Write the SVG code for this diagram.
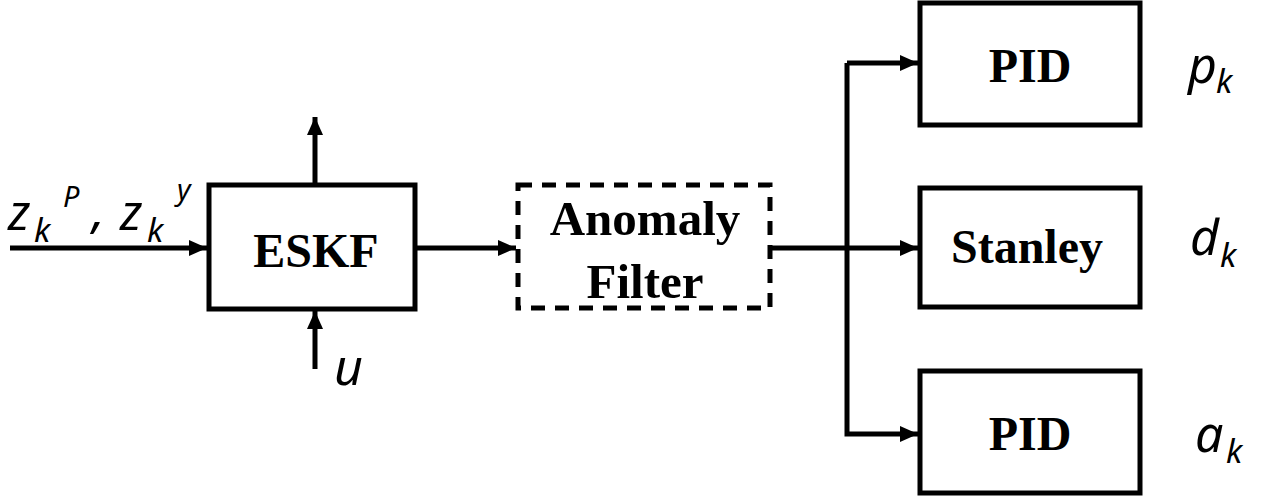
<svg xmlns="http://www.w3.org/2000/svg" width="1271" height="501" viewBox="0 0 1271 501">
<style>
.box{fill:#fff;stroke:#000;stroke-width:5}
.dash{fill:#fff;stroke:#000;stroke-width:5;stroke-dasharray:14 10}
.ln{fill:none;stroke:#000;stroke-width:5}
</style>
<defs>
<marker id="ah" markerUnits="userSpaceOnUse" markerWidth="18" markerHeight="16" refX="18" refY="8" orient="auto">
<path d="M0,0 L18,8 L0,16 Z" fill="#000"/>
</marker>
</defs>
<g id="connectors">
<path class="ln" d="M10,248 H207" marker-end="url(#ah)"/>
<path class="ln" d="M315,185 V117" marker-end="url(#ah)"/>
<path class="ln" d="M315,369 V311" marker-end="url(#ah)"/>
<path class="ln" d="M415,248 H516" marker-end="url(#ah)"/>
<path class="ln" d="M770,248 H847"/>
<path class="ln" d="M847,63 V434 H918" marker-end="url(#ah)"/>
<path class="ln" d="M847,63 H918" marker-end="url(#ah)"/>
<path class="ln" d="M847,248 H918" marker-end="url(#ah)"/>
</g>
<g font-family="Liberation Serif, Times New Roman, serif" font-weight="bold" font-size="48" text-anchor="middle" fill="#000">
<g id="eskf">
<rect class="box" x="209" y="185" width="206" height="124"/>
<text x="316" y="267">ESKF</text>
</g>
<g id="anomaly">
<rect class="dash" x="518" y="185" width="252" height="123"/>
<text x="645" y="235" font-size="49">Anomaly</text>
<text x="645" y="298" font-size="49">Filter</text>
</g>
<g id="pid1">
<rect class="box" x="920" y="3" width="220" height="122"/>
<text x="1030" y="82">PID</text>
</g>
<g id="stanley">
<rect class="box" x="920" y="188" width="220" height="119"/>
<text x="1027" y="263">Stanley</text>
</g>
<g id="pid2">
<rect class="box" x="920" y="371" width="220" height="122"/>
<text x="1030" y="450">PID</text>
</g>
</g>
<g id="labels" font-family="Noto Sans" font-style="italic" font-size="50" fill="#000">
<text x="8" y="230">z<tspan font-size="33" x="34" y="242">k</tspan><tspan font-size="29" x="63" y="207">P</tspan><tspan x="92" y="228">,</tspan><tspan x="120" y="230">z</tspan><tspan font-size="33" x="147" y="242">k</tspan><tspan font-size="29" x="177" y="200">y</tspan></text>
<text x="334" y="385">u</text>
<text x="1188" y="83">p<tspan font-size="33" x="1216" y="93">k</tspan></text>
<text x="1190" y="255">d<tspan font-size="33" x="1220" y="267">k</tspan></text>
<text x="1195" y="452">a<tspan font-size="33" x="1226" y="463">k</tspan></text>
</g>
</svg>
